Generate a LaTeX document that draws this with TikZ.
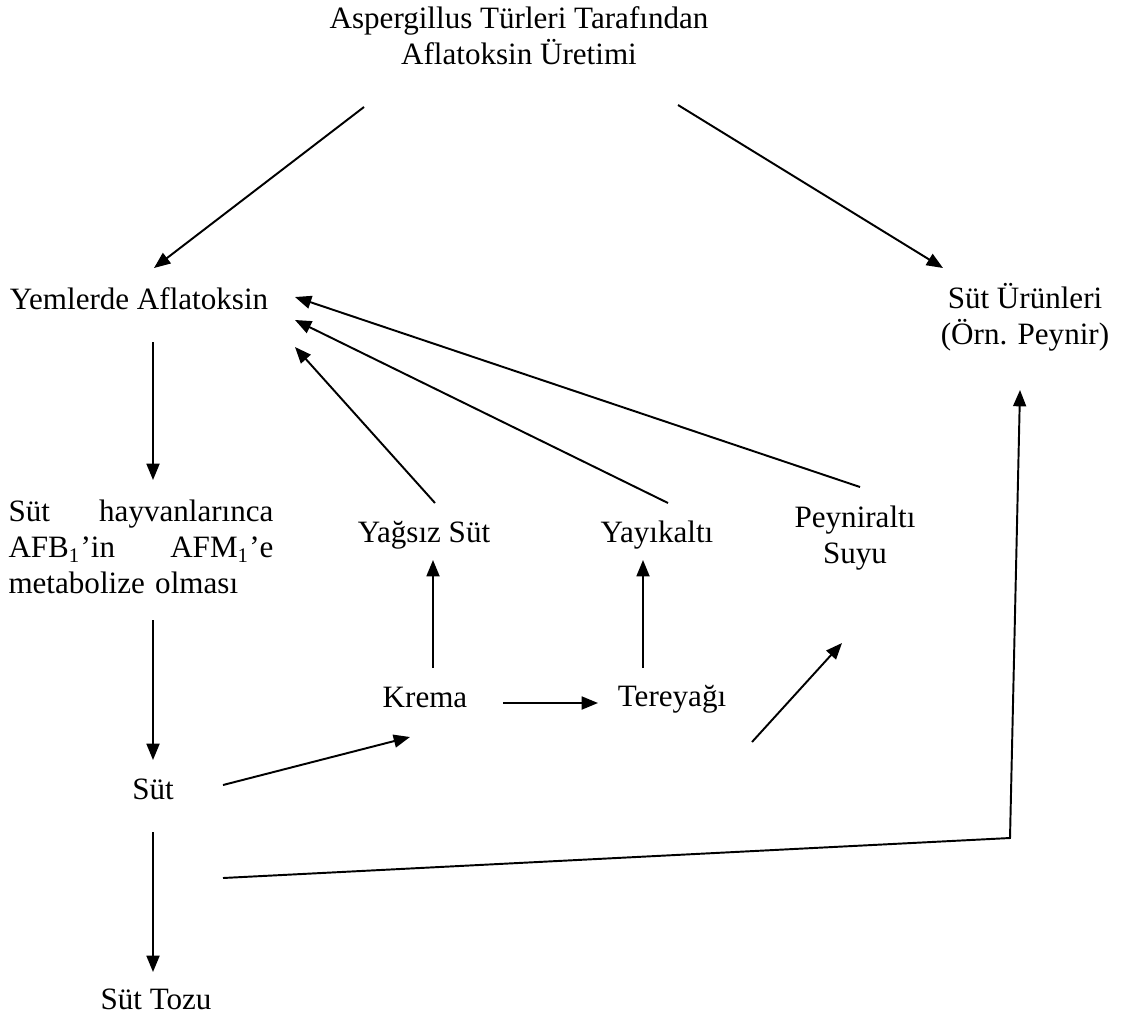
\documentclass[tikz,border=0pt]{standalone}
\usepackage{fontspec}
\setmainfont{Liberation Serif}
\usetikzlibrary{arrows.meta,calc}
\begin{document}
\begin{tikzpicture}[x=0.3861pt, y=-0.3861pt, inner sep=0pt, font=\fontsize{12}{14}\selectfont,
		lbl/.style={anchor=base}, arr/.style={line width=0.75pt, -{Triangle[length=6.3pt, width=5pt]}}]
	\useasboundingbox (0,0) rectangle (1125,1019);
	\node[anchor=north, align=center] (title) at (519,6) {Aspergillus Türleri Tarafından\\Aflatoksin Üretimi};
	\node[lbl] (yem) at (139,309) {Yemlerde Aflatoksin};
	\node[anchor=north, align=center] (urun) at (1025,283) {Süt Ürünleri\\(Örn. Peynir)};
	\node[anchor=north west, text width=102.3pt, align=left] (hayvan) at (8,499)
		{Süt\hfill hayvanlarınca\\AFB\textsubscript{1}’in\hfill AFM\textsubscript{1}’e\\metabolize olması};
	\node[lbl] (yagsiz) at (424,542) {Yağsız Süt};
	\node[lbl] (yayik) at (657,542) {Yayıkaltı};
	\node[anchor=north, align=center] (peyn) at (855,505) {Peyniraltı\\Suyu};
	\node[lbl] (krema) at (425,707) {Krema};
	\node[lbl] (tere) at (672,706) {Tereyağı};
	\node[lbl] (sut) at (153,799) {Süt};
	\node[lbl] (tozu) at (156,1009) {Süt Tozu};
	\coordinate (kose) at (1010,838);

	\draw[arr] ($(title.north)+(-155,101)$) -- ($(yem.base)+(15,-41)$);
	\draw[arr] ($(title.north)+(159,99)$) -- ($(urun.north)+(-82,-15)$);
	\draw[arr] ($(yem.base)+(14,33)$) -- ($(hayvan.north west)+(145,-19)$);
	\draw[arr] ($(hayvan.north west)+(145,121)$) -- ($(sut.base)+(0,-39)$);
	\draw[arr] ($(sut.base)+(0,33)$) -- ($(tozu.base)+(-3,-37)$);
	\draw[arr] ($(sut.base)+(70,-14)$) -- ($(krema.base)+(-15,30)$);
	\draw[arr] ($(krema.base)+(78,-4)$) -- ($(tere.base)+(-74,-3)$);
	\draw[arr] ($(krema.base)+(8,-39)$) -- ($(yagsiz.base)+(9,18)$);
	\draw[arr] ($(tere.base)+(-29,-38)$) -- ($(yayik.base)+(-14,18)$);
	\draw[arr] ($(tere.base)+(80,36)$) -- ($(peyn.north)+(-13,138)$);
	\draw[arr] ($(yagsiz.base)+(11,-39)$) -- ($(yem.base)+(156,38)$);
	\draw[arr] ($(yayik.base)+(11,-39)$) -- ($(yem.base)+(156,11)$);
	\draw[arr] ($(peyn.north)+(5,-18)$) -- ($(yem.base)+(156,-12)$);
	\draw[arr] ($(sut.base)+(70,79)$) -- (kose) -- ($(urun.north)+(-5,107)$);
\end{tikzpicture}
\end{document}
